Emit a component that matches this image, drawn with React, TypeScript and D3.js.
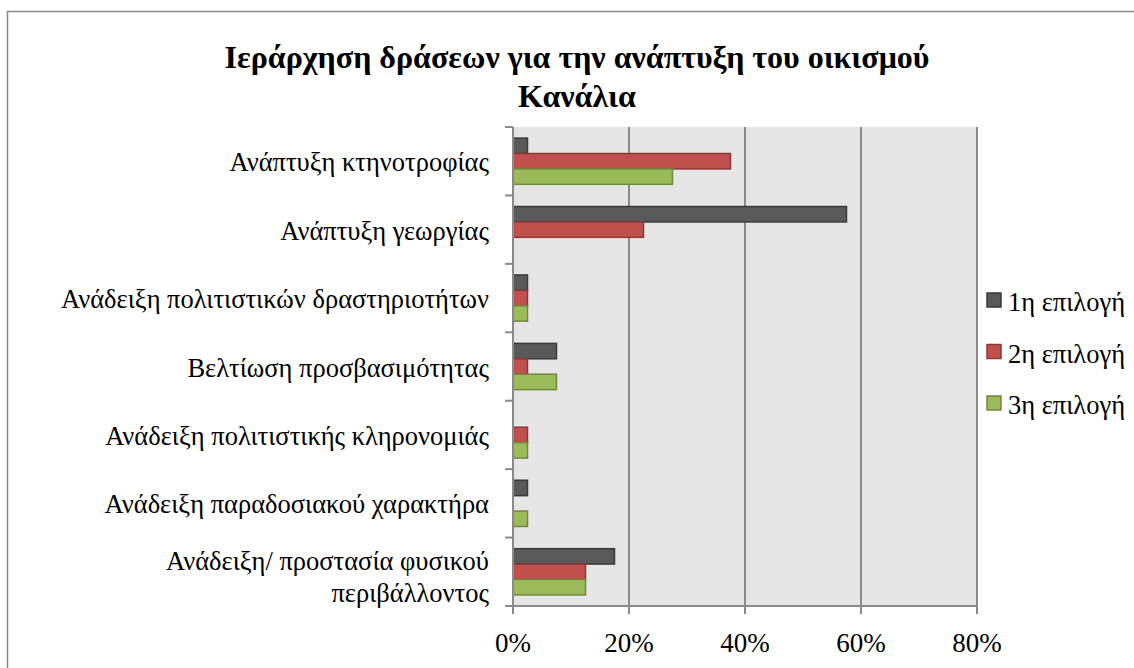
import * as d3 from "d3";

const categories = [
  "Ανάπτυξη κτηνοτροφίας",
  "Ανάπτυξη γεωργίας",
  "Ανάδειξη πολιτιστικών δραστηριοτήτων",
  "Βελτίωση προσβασιμότητας",
  "Ανάδειξη πολιτιστικής κληρονομιάς",
  "Ανάδειξη παραδοσιακού χαρακτήρα",
  "Ανάδειξη/ προστασία φυσικού περιβάλλοντος",
];
const categoryLines = [
  ["Ανάπτυξη κτηνοτροφίας"],
  ["Ανάπτυξη γεωργίας"],
  ["Ανάδειξη πολιτιστικών δραστηριοτήτων"],
  ["Βελτίωση προσβασιμότητας"],
  ["Ανάδειξη πολιτιστικής κληρονομιάς"],
  ["Ανάδειξη παραδοσιακού χαρακτήρα"],
  ["Ανάδειξη/ προστασία φυσικού", "περιβάλλοντος"],
];
const seriesNames = ["1η επιλογή", "2η επιλογή", "3η επιλογή"];
const first = [0.025, 0.575, 0.025, 0.075, 0, 0.025, 0.175];
const second = [0.375, 0.225, 0.025, 0.025, 0.025, 0, 0.125];
const third = [0.275, 0, 0.025, 0.075, 0.025, 0.025, 0.125];
const xTicks = [0, 0.2, 0.4, 0.6, 0.8];

const fills = ["#595959", "#C0504D", "#9BBB59"];
const strokes = ["#3a3a3a", "#8C3836", "#71893F"];

const serif = "Times New Roman";

export default function App() {
  const W = 1134;
  const H = 668;
  const left = 513;
  const right = 977;
  const top = 127;
  const bottom = 606;

  const x = d3.scaleLinear().domain([0, 0.8]).range([left, right]);
  const y = d3.scaleBand<string>().domain(categories).range([top, bottom]);
  const inner = d3
    .scaleBand<number>()
    .domain([0, 1, 2])
    .range([0, y.bandwidth()])
    .paddingOuter(0.72)
    .paddingInner(0);

  const series = [first, second, third];

  return (
    <div style={{ position: "absolute", left: 0, top: 0, fontFamily: `"${serif}"` }}>
      <svg width={W} height={H} style={{ display: "block" }}>
        {/* outer frame */}
        <rect x={7.5} y={11.5} width={W + 10} height={H + 10} fill="#fff" stroke="#8a8a8a" strokeWidth={1.5} />

        <text x={577} y={68} textAnchor="middle" fontSize={32} fontWeight="bold" style={{ fontFamily: `"${serif}"` }}>
          Ιεράρχηση δράσεων για την ανάπτυξη του οικισμού
        </text>
        <text x={577} y={107} textAnchor="middle" fontSize={32} fontWeight="bold" style={{ fontFamily: `"${serif}"` }}>
          Κανάλια
        </text>

        {/* plot area */}
        <rect x={left} y={top} width={right - left} height={bottom - top} fill="#E6E6E6" />
        {xTicks.slice(1).map((t) => (
          <line key={t} x1={x(t)} x2={x(t)} y1={top} y2={bottom} stroke="#8a8a8a" strokeWidth={2} />
        ))}

        {/* bars */}
        {categories.map((c, i) =>
          series.map((s, k) =>
            s[i] > 0 ? (
              <rect
                key={c + k}
                x={x(0)}
                y={(y(c) as number) + (inner(k) as number)}
                width={x(s[i]) - x(0)}
                height={inner.bandwidth()}
                fill={fills[k]}
                stroke={strokes[k]}
                strokeWidth={1.5}
              />
            ) : null
          )
        )}

        {/* axes */}
        <line x1={left} x2={left} y1={top} y2={bottom} stroke="#8a8a8a" strokeWidth={2} />
        {d3.range(categories.length + 1).map((i) => {
          const yy = top + i * y.step();
          return <line key={i} x1={left - 8} x2={left} y1={yy} y2={yy} stroke="#8a8a8a" strokeWidth={2} />;
        })}
        <line x1={left - 8} x2={right} y1={bottom} y2={bottom} stroke="#8a8a8a" strokeWidth={2} />
        {xTicks.map((t) => (
          <g key={t}>
            <line x1={x(t)} x2={x(t)} y1={bottom} y2={bottom + 8} stroke="#8a8a8a" strokeWidth={2} />
            <text x={x(t)} y={652} textAnchor="middle" fontSize={27} style={{ fontFamily: `"${serif}"` }}>
              {d3.format(".0%")(t)}
            </text>
          </g>
        ))}

        {/* category labels */}
        {categories.map((c, i) => {
          const lines = categoryLines[i];
          const cy = (y(c) as number) + y.bandwidth() / 2;
          const lh = 32;
          const shift = lines.length > 1 ? 14 : 10;
          return (
            <text key={c} textAnchor="end" fontSize={26.5} style={{ fontFamily: `"${serif}"` }}>
              {lines.map((ln, j) => (
                <tspan key={j} x={489} y={cy + shift + (j - (lines.length - 1) / 2) * lh}>
                  {ln}
                </tspan>
              ))}
            </text>
          );
        })}

        {/* legend */}
        {seriesNames.map((n, k) => (
          <g key={n} transform={`translate(987, ${300 + k * 51.5})`}>
            <rect x={0} y={-7} width={14} height={14} fill={fills[k]} stroke={strokes[k]} strokeWidth={1.5} />
            <text x={21} y={11} fontSize={26.5} style={{ fontFamily: `"${serif}"` }}>
              {n}
            </text>
          </g>
        ))}
      </svg>
    </div>
  );
}
